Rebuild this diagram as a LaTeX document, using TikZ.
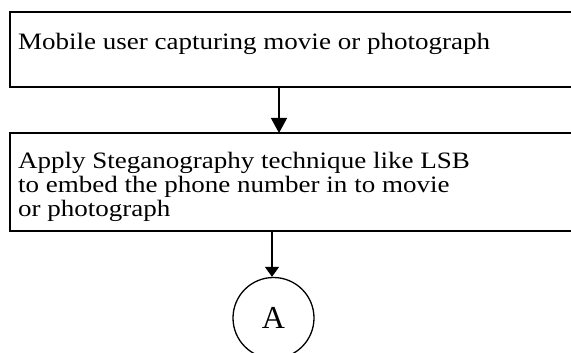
\documentclass[tikz,border=0pt]{standalone}
\usepackage{fontspec}
\setmainfont{Liberation Serif}
\newfontfamily\widefont[FakeStretch=1.15]{Liberation Serif}
\usetikzlibrary{arrows.meta}
\begin{document}
\begin{tikzpicture}[x=1pt,y=-1pt,
  box/.style={draw, line width=1.3pt, anchor=north west, inner xsep=8pt, outer sep=0pt, font=\widefont\fontsize{23.5}{24}\selectfont},
  conn/.style={line width=1.3pt, -{Triangle[width=16pt,length=15pt]}},
  connb/.style={line width=1.3pt, -{Triangle[width=14pt,length=10pt]}},
  circ/.style={draw, circle, line width=1.3pt, minimum size=81pt, inner sep=0pt, font=\fontsize{32}{32}\selectfont}]
\useasboundingbox (0,0) rectangle (571,353);
\node[box, inner ysep=20.8pt] (b1) at (10,12) {\parbox[c][33.4pt][t]{548pt}{Mobile user capturing movie or photograph}};
\node[box, inner ysep=18.8pt] (b2) at (10,133) {\parbox[c][60.4pt][t]{548pt}{Apply Steganography technique like LSB\\to embed the phone number in to movie\\or photograph}};
\node[circ] (c) at (273.5,318) {A};
\coordinate (x1) at (279,0);
\coordinate (x2) at (272,0);
\draw[conn] (b1.south -| x1) -- (b2.north -| x1);
\draw[connb] (b2.south -| x2) -- (c.north -| x2);
\end{tikzpicture}
\end{document}
